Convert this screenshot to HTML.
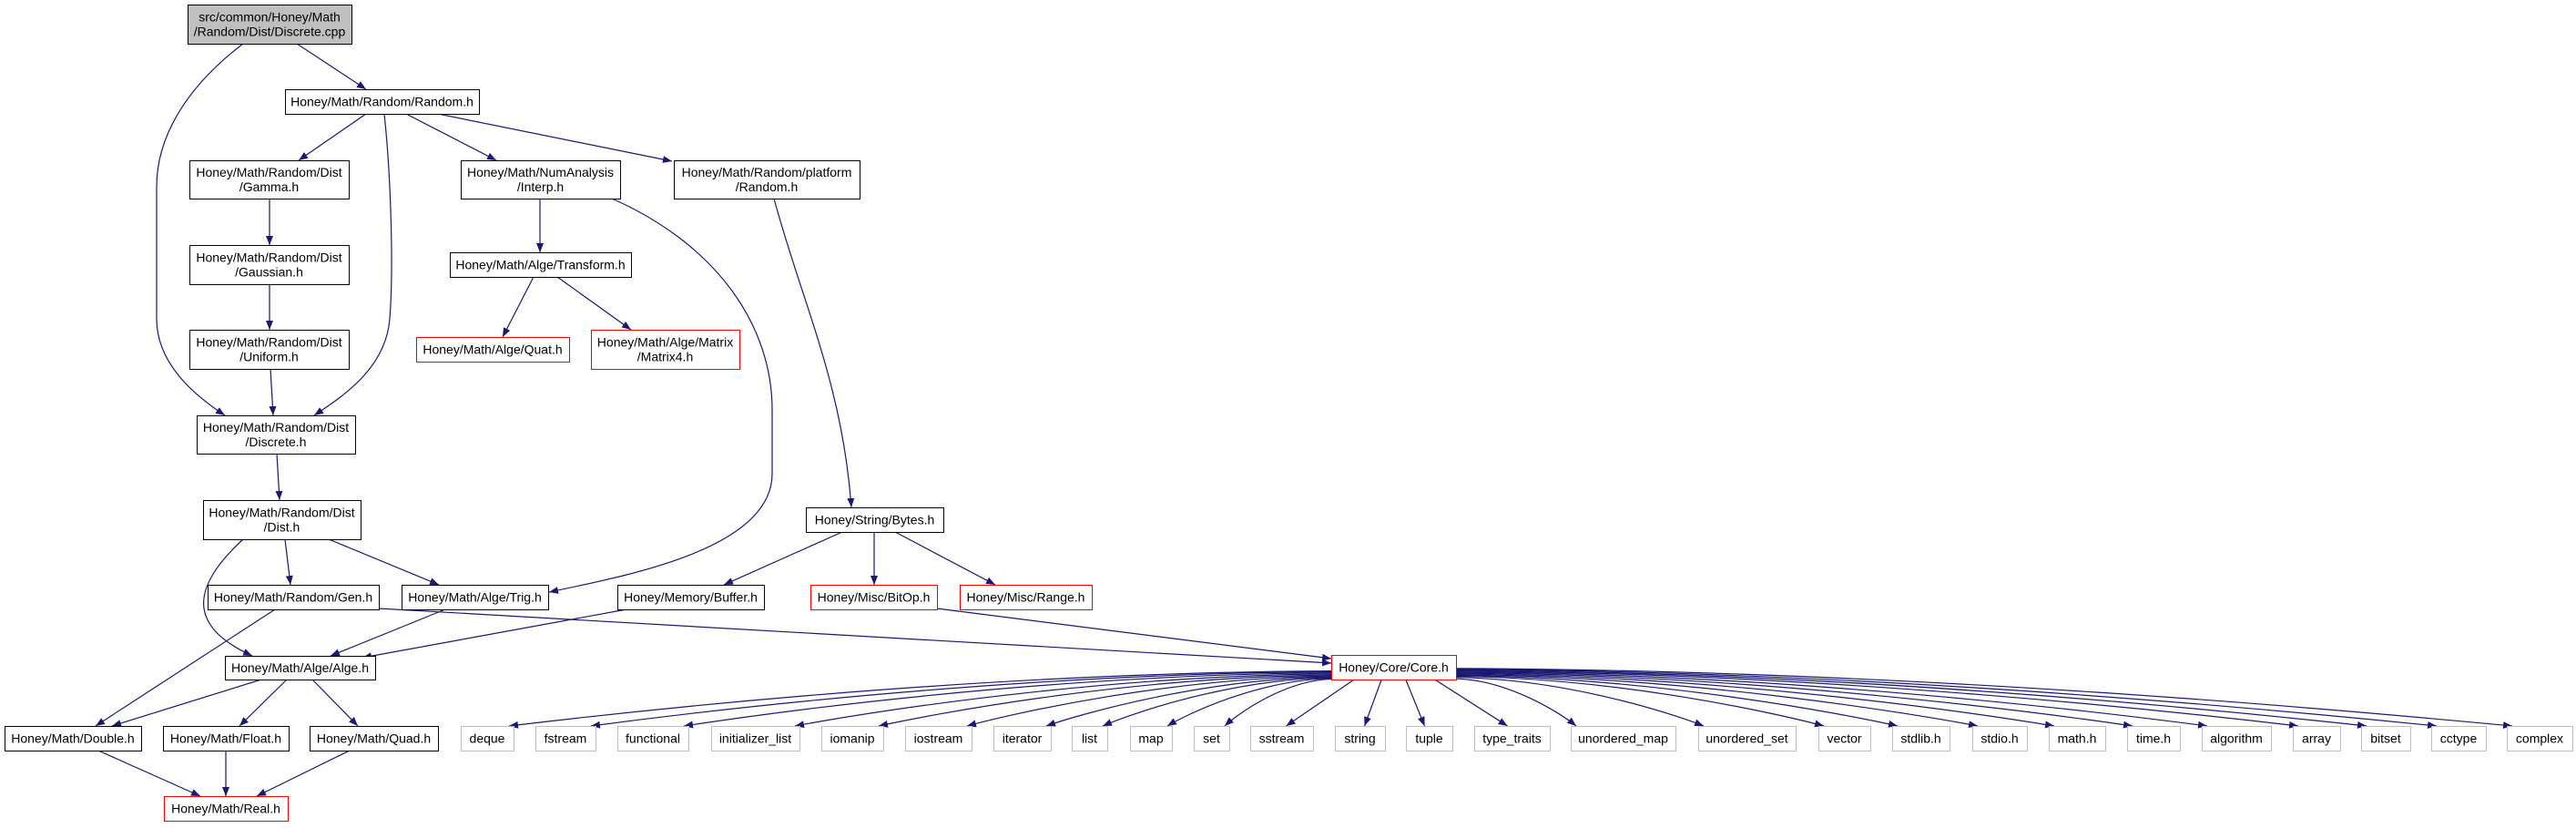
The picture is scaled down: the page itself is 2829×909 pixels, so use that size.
<!DOCTYPE html>
<html><head><meta charset="utf-8"><style>
html,body{margin:0;padding:0;background:#fff;}
svg{display:block;}
text{font-family:"Liberation Sans",Arial,sans-serif;font-size:14px;fill:#000;}
</style></head><body>
<svg id="s" width="2829" height="909" viewBox="0 0 2829 909" xmlns="http://www.w3.org/2000/svg">
<defs><marker id="a" markerUnits="userSpaceOnUse" viewBox="0 0 10 8" refX="10" refY="4" markerWidth="10" markerHeight="8" orient="auto"><path d="M0,0 L10,4 L0,8 z" fill="#191970"/></marker></defs>
<g id="e" fill="none" stroke="#191970" stroke-width="1.2"></g>
<g id="n"></g>
</svg>
<script>
var NS="http://www.w3.org/2000/svg";
var E=document.getElementById('e'),N=document.getElementById('n');
function P(d){var p=document.createElementNS(NS,'path');p.setAttribute('d',d);p.setAttribute('marker-end','url(#a)');E.appendChild(p);}
function B(x1,y1,x2,y2,lines,kind){
 var r=document.createElementNS(NS,'rect');
 r.setAttribute('x',x1+0.5);r.setAttribute('y',y1+0.5);r.setAttribute('width',x2-x1);r.setAttribute('height',y2-y1);
 var fill='#fff',st='#000';
 if(kind=='root'){fill='#bfbfbf';}
 if(kind=='red'){st='#ff0000';}
 if(kind=='gray'){st='#bfbfbf';}
 r.setAttribute('fill',fill);r.setAttribute('stroke',st);r.setAttribute('stroke-width','1');
 N.appendChild(r);
 var cx=(x1+x2)/2,cy=(y1+y2)/2;
 for(var i=0;i<lines.length;i++){
  var t=document.createElementNS(NS,'text');
  t.setAttribute('x',cx);t.setAttribute('text-anchor','middle');
  t.setAttribute('y',cy+5+(i-(lines.length-1)/2)*16);
  t.textContent=lines[i];N.appendChild(t);
 }
}
B(206,5,386,48,["src/common/Honey/Math","/Random/Dist/Discrete.cpp"],'root');
B(313,98,526,125,["Honey/Math/Random/Random.h"]);
B(208,176,383,218,["Honey/Math/Random/Dist","/Gamma.h"]);
B(208,269,383,312,["Honey/Math/Random/Dist","/Gaussian.h"]);
B(208,362,383,405,["Honey/Math/Random/Dist","/Uniform.h"]);
B(506,176,681,218,["Honey/Math/NumAnalysis","/Interp.h"]);
B(494,277,693,304,["Honey/Math/Alge/Transform.h"]);
B(457,370,625,397,["Honey/Math/Alge/Quat.h"],'red');
B(649,362,812,405,["Honey/Math/Alge/Matrix","/Matrix4.h"],'red');
B(740,176,944,218,["Honey/Math/Random/platform","/Random.h"]);
B(216,456,390,498,["Honey/Math/Random/Dist","/Discrete.h"]);
B(223,549,396,592,["Honey/Math/Random/Dist","/Dist.h"]);
B(228,642,416,669,["Honey/Math/Random/Gen.h"]);
B(441,642,602,669,["Honey/Math/Alge/Trig.h"]);
B(678,642,839,669,["Honey/Memory/Buffer.h"]);
B(247,720,412,746,["Honey/Math/Alge/Alge.h"]);
B(5,797,155,824,["Honey/Math/Double.h"]);
B(179,797,317,824,["Honey/Math/Float.h"]);
B(340,797,481,824,["Honey/Math/Quad.h"]);
B(180,874,316,901,["Honey/Math/Real.h"],'red');
B(885,557,1036,584,["Honey/String/Bytes.h"]);
B(890,642,1029,669,["Honey/Misc/BitOp.h"],'red');
B(1054,642,1199,669,["Honey/Misc/Range.h"],'red');
B(1462,719,1599,746,["Honey/Core/Core.h"],'red');
var std=[["deque",506,564],["fstream",588,654],["functional",678,756],["initializer_list",781,878],["iomanip",902,970],["iostream",994,1067],["iterator",1091,1154],["list",1177,1216],["map",1241,1287],["set",1311,1350],["sstream",1373,1442],["string",1466,1521],["tuple",1544,1595],["type_traits",1619,1702],["unordered_map",1725,1840],["unordered_set",1865,1972],["vector",1997,2054],["stdlib.h",2078,2141],["stdio.h",2166,2226],["math.h",2250,2312],["time.h",2336,2394],["algorithm",2418,2494],["array",2518,2570],["bitset",2593,2647],["cctype",2670,2730],["complex",2753,2825]];
std.forEach(function(s){
 B(s[1],797,s[2],824,[s[0]],'gray');
 var cx=(s[1]+s[2])/2,ex,sx,sy;
 if(cx<1380){ex=s[2]-5;}
 else if(cx>1700){ex=s[1]+6;}
 else{ex=cx+(cx<1530?5:-5);}
 if(cx<1380){sx=1462;sy=733+Math.min(12,(1380-cx)/80);sy=746-(1380-cx)/90;if(sy<732)sy=732;}
 else if(cx>1700){sx=1599;sy=746-(cx-1700)/90;if(sy<732)sy=732;}
 else{sx=1530+(cx-1530)*0.35;sy=746;}
 var d;
 if(cx<1380||cx>1700){
  d="M"+sx+","+sy+" C"+(ex+(sx-ex)*0.55)+","+(sy+2)+" "+(ex+(sx-ex)*0.12)+","+(784)+" "+ex+",797";
 } else d="M"+sx+","+sy+" L"+ex+",797";
 P(d);
});
P("M326,48 L402,98");
P("M267,48 C205,95 172,150 172,205 L172,350 C172,400 215,435 247,456");
P("M402,125 L328,176");
P("M422,125 C430,200 432,300 428,350 C424,400 385,430 345,456");
P("M446,125 L545,176");
P("M481,125 L738,177");
P("M296,218 L296,269");
P("M296,312 L296,362");
P("M297,405 L300,456");
P("M593,218 L593,277");
P("M672,218 C790,270 848,360 848,450 L848,520 C848,600 700,630 603,650");
P("M850,218 C880,330 925,420 935,557");
P("M586,304 L552,370");
P("M612,304 L693,362");
P("M304,498 L307,549");
P("M267,592 C215,640 200,685 277,720");
P("M313,592 L319,642");
P("M361,592 L482,642");
P("M302,669 L105,797");
P("M416,668 L1462,728");
P("M489,669 L363,720");
P("M688,669 L398,722");
P("M287,746 L123,797");
P("M315,746 L263,797");
P("M343,746 L393,797");
P("M108,824 L220,874");
P("M248,824 L248,874");
P("M384,824 L282,874");
P("M925,584 L795,642");
P("M960,584 L960,642");
P("M983,584 L1093,642");
P("M1029,668 L1462,723");
</script>
</body></html>
